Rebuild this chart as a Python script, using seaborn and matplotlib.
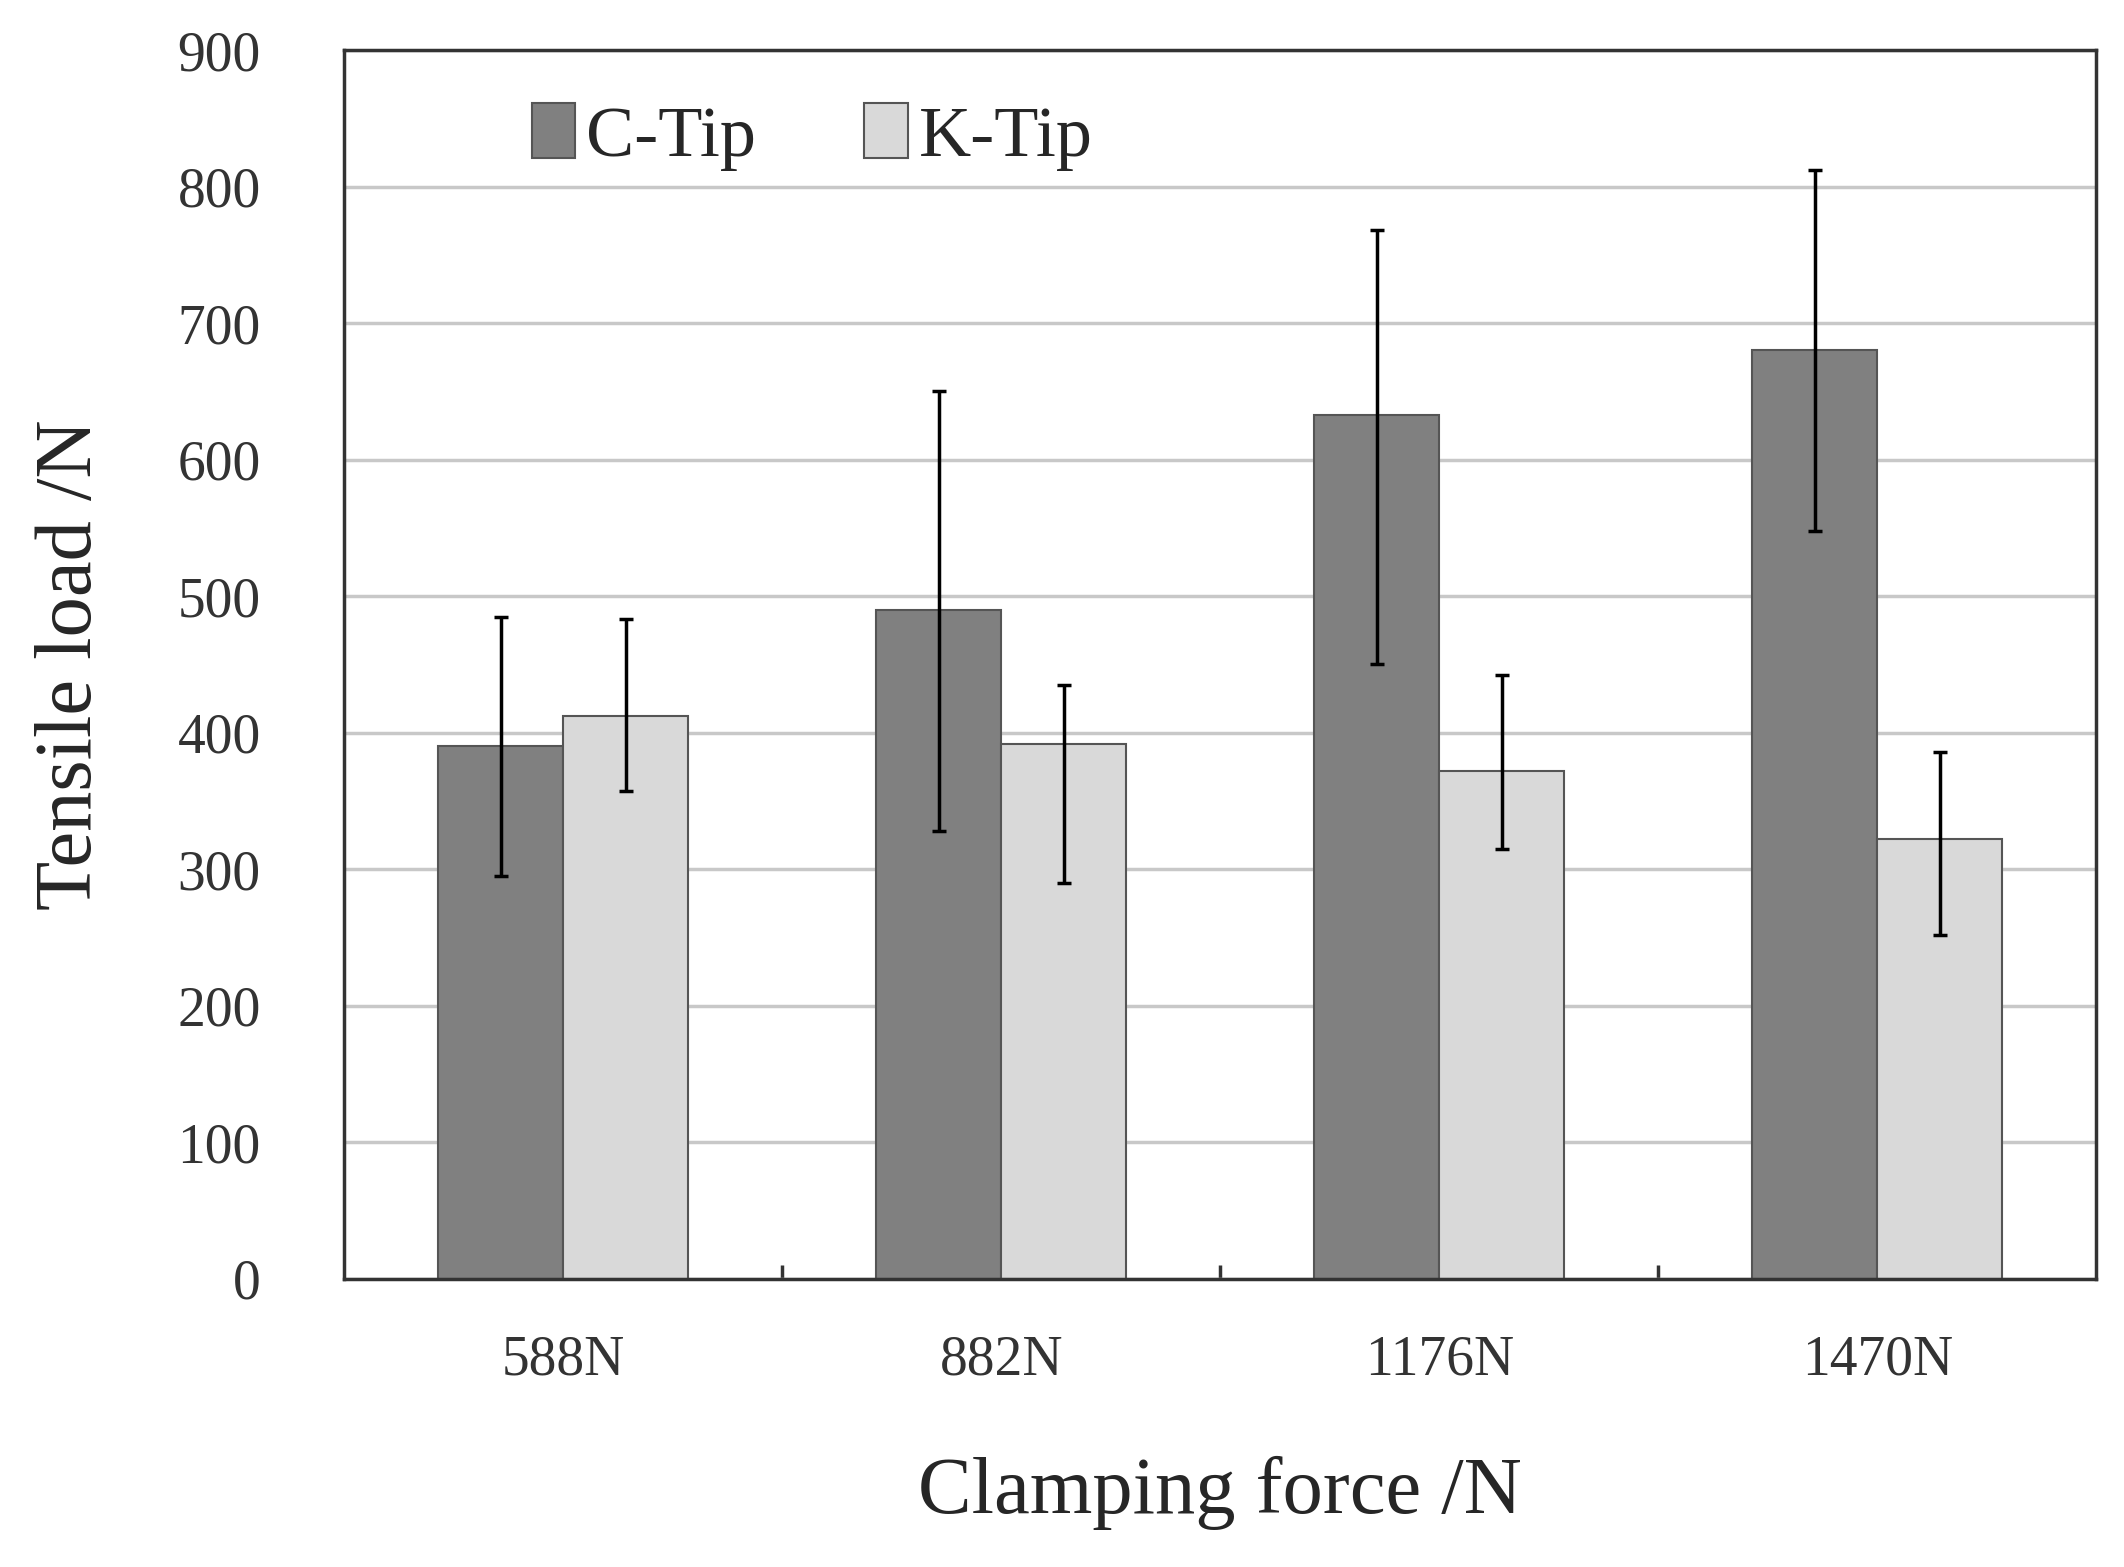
import matplotlib
matplotlib.use("Agg")
import matplotlib.pyplot as plt
import seaborn as sns
import pandas as pd
import numpy as np

forces = ["588N", "882N", "1176N", "1470N"]
c_tip = [390, 490, 633, 680]
c_low = [295, 328, 450, 548]
c_high = [485, 650, 768, 812]
k_tip = [412, 392, 372, 322]
k_low = [357, 290, 315, 252]
k_high = [483, 435, 442, 386]

sns.set_style("white")
plt.rcParams['font.family'] = ['Liberation Serif', 'DejaVu Serif']

df = pd.DataFrame({
    "force": forces * 2,
    "load": c_tip + k_tip,
    "tip": ["C-Tip"] * 4 + ["K-Tip"] * 4,
})

fig = plt.figure(figsize=(21.24, 15.67), dpi=100)
ax = fig.add_axes([0.162, 0.184, 0.825, 0.784])
ax.yaxis.grid(True, color="#c8c8c8", linewidth=2.5, zorder=0)
ax.set_axisbelow(True)
sns.barplot(data=df, x="force", y="load", hue="tip", order=forces,
            palette={"C-Tip": "#808080", "K-Tip": "#d9d9d9"},
            width=0.57, edgecolor="#555555", linewidth=1.5, errorbar=None, ax=ax,
            zorder=2)

# asymmetric error bars at bar centres
for cont, vals, lo, hi in [(ax.containers[0], c_tip, c_low, c_high),
                           (ax.containers[1], k_tip, k_low, k_high)]:
    xs = [p.get_x() + p.get_width() / 2 for p in cont]
    yerr = [np.subtract(vals, lo), np.subtract(hi, vals)]
    ax.errorbar(xs, vals, yerr=yerr, fmt="none", ecolor="black",
                elinewidth=2.5, capsize=5, capthick=2.5, zorder=3)

ax.set_ylim(0, 900)
ax.set_yticks(range(0, 901, 100))
ax.set_xlim(-0.5, 3.5)
ax.set_xticks([0, 1, 2, 3])
ax.set_xticklabels(forces)
ax.set_xticks([0.5, 1.5, 2.5], minor=True)
ax.tick_params(axis="x", which="major", length=0, pad=40, labelsize=40, colors="#333333")
ax.tick_params(axis="x", which="minor", bottom=True, length=10, width=2.5,
               direction="in", color="#333333")
ax.tick_params(axis="y", length=0, pad=60, labelsize=40, colors="#333333")
for s in ax.spines.values():
    s.set_color("#333333")
    s.set_linewidth(2.5)

ax.set_xlabel("Clamping force /N", fontsize=58, labelpad=50)
ax.set_ylabel("Tensile load /N", fontsize=58, labelpad=50)

ax.legend(loc="upper left", bbox_to_anchor=(0.07, 1.01), ncol=2, frameon=False,
          fontsize=52, handlelength=0.6, handleheight=0.8, handletextpad=0.15,
          columnspacing=1.5, title=None)

fig.savefig("out.png", dpi=100)
